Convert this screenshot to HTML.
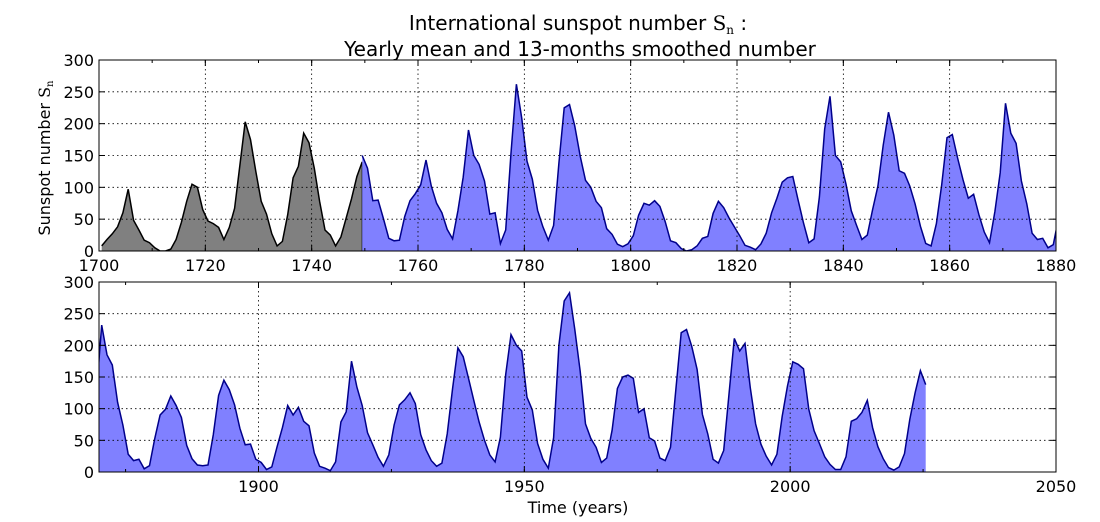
<!DOCTYPE html>
<html><head><meta charset="utf-8">
<style>
html,body{margin:0;padding:0;background:#fff;}
svg{display:block;font-family:"DejaVu Sans","Liberation Sans",sans-serif;}
</style></head>
<body>
<svg id="chart" width="1100" height="522" viewBox="0 0 1100 522" xmlns="http://www.w3.org/2000/svg">
<rect width="1100" height="522" fill="#fff"/>
<text x="578" y="30" font-size="20" text-anchor="middle">International sunspot number <tspan font-family="'DejaVu Serif',serif">S</tspan><tspan font-family="'DejaVu Serif',serif" font-size="12" dy="4">n</tspan><tspan dy="-4"> :</tspan></text>
<text x="580" y="56" font-size="20" text-anchor="middle">Yearly mean and 13-months smoothed number</text>
<text transform="translate(50,158) rotate(-90)" font-size="16" text-anchor="middle">Sunspot number <tspan font-family="'DejaVu Serif',serif">S</tspan><tspan font-family="'DejaVu Serif',serif" font-size="10" dy="3">n</tspan></text>
<text x="578" y="513" font-size="16" text-anchor="middle">Time (years)</text>
<g id="plots"></g>
</svg>
<script>
const grayStart = 1700;
const grayValues = [8,18,27,38,60,97,48,33,17,13,5,0,0,3,18,45,78,105,100,65,47,43,37,18,37,67,135,203,175,125,78,58,27,8,15,57,115,133,185,170,130,78,33,25,8,22,52,82,117,140];
const blueStart = 1749.5;
const blueValues = [150,130,79,80,51,20,16,17,54,79,90,104,143,102,75,60,34,19,63,116,190,150,136,110,58,60,11.7,33,154,262,209,141,113,64,38,17,40,138,225,230,196,149,111,100,78,68,35,26,10.7,6.8,11.3,24,56,75,72,79,70,46,16,13,4,0,2,8,20,23,59,78,68,52,38,24,9,6,2,11,28,60,83,108,115,117,80,44,13,19,85,192,243,150,140,105,63,40,18,25,65,102,166,218,182,126,122,102,74,39,12,8,43,104,178,183,146,112,83,89,57,30,13,62,123,232,185,169,110,74,28,18,20,5,10,53,90,99,120,105,86,42,21,11,10,11,59,121,145,130,106,69,43,44,20,15,4,8,40,70,105,90,102,80,73,30,9,6,2,16,79,95,175,134,105,62,43,23,9,27,74,106,114,125,108,59,35,18,9,14,60,132,196,182,148,113,79,50,27,16,55,154,217,200,191,118,98,45,20,6,54,200,270,283,225,159,76,53,39,15,22,66,132,150,153,148,94,100,54,49,22,18,39,131,220,225,198,162,91,60,20,14,34,123,211,191,203,133,76,44,25,11,28,88,136,174,170,163,99,65,45,24,12,4,4,24,80,84,94,113,70,40,21,7,3,8,29,83,125,160,138];
const yTicks = [0,50,100,150,200,250,300];
const topXTicks = [1700,1720,1740,1760,1780,1800,1820,1840,1860,1880];
const botXTicks = [1900,1950,2000,2050];

const NS='http://www.w3.org/2000/svg';
const root=document.getElementById('plots');
function el(tag,attrs,parent){const e=document.createElementNS(NS,tag);for(const k in attrs)e.setAttribute(k,attrs[k]);(parent||root).appendChild(e);return e;}

function panel(name,top,bottom,x0,x1,xTicks,minorStep){
  const L=99,R=1056;
  const sx=v=>L+(v-x0)/(x1-x0)*(R-L);
  const sy=v=>bottom-v/300*(bottom-top);
  const g=el('g',{});
  
  
  const cid='clip-'+name;
  const cp=el('clipPath',{id:cid},g);el('rect',{x:L,y:top,width:R-L,height:bottom-top},cp);
  const data=el('g',{'clip-path':'url(#'+cid+')'},g);
  function series(start,vals,fill,stroke,nm){
    let pts=vals.map((v,i)=>[sx(start+i),sy(v)]);
    let d='M'+pts[0][0].toFixed(1)+','+sy(0)+' '+pts.map(p=>'L'+p[0].toFixed(1)+','+p[1].toFixed(1)).join(' ')+' L'+pts[pts.length-1][0].toFixed(1)+','+sy(0)+'Z';
    const a=el('path',{d:d,fill:fill,stroke:'none'},data);
    
    
    const l=el('path',{d:'M'+pts.map(p=>p[0].toFixed(1)+','+p[1].toFixed(1)).join(' L'),fill:'none',stroke:stroke,'stroke-width':1.5},data);
    
    
  }
  if(x0<1750){series(grayStart+0.5,grayValues,'#808080','#000','yearly-mean');
    el('line',{x1:sx(1749.5),x2:sx(1749.5),y1:sy(0),y2:sy(grayValues[grayValues.length-1]),stroke:'#000','stroke-width':1},data);}
  series(blueStart,blueValues,'#8080ff','#00008b','smoothed');
  yTicks.forEach(t=>{if(t>0&&t<300)el('line',{x1:L,x2:R,y1:sy(t),y2:sy(t),stroke:'#000','stroke-width':0.8,'stroke-dasharray':'1.5,3'},g);});
  xTicks.forEach(t=>{const x=sx(t);if(x>L+1&&x<R-1)el('line',{x1:x,x2:x,y1:top,y2:bottom,stroke:'#000','stroke-width':0.8,'stroke-dasharray':'1.5,3'},g);});
  for(let t=Math.ceil(x0/minorStep)*minorStep;t<=x1;t+=minorStep){const x=sx(t);
    el('line',{x1:x,x2:x,y1:bottom,y2:bottom-3,stroke:'#000','stroke-width':1},g);el('line',{x1:x,x2:x,y1:top,y2:top+3,stroke:'#000','stroke-width':1},g);}
  xTicks.forEach(t=>{const x=sx(t);
    el('line',{x1:x,x2:x,y1:bottom,y2:bottom-6,stroke:'#000','stroke-width':1},g);el('line',{x1:x,x2:x,y1:top,y2:top+6,stroke:'#000','stroke-width':1},g);
    const tx=el('text',{x:x,y:bottom+20,'font-size':16,'text-anchor':'middle'},g);tx.textContent=t;
    
    });
  yTicks.forEach(t=>{const y=sy(t);
    el('line',{x1:L,x2:L+6,y1:y,y2:y,stroke:'#000','stroke-width':1},g);el('line',{x1:R,x2:R-6,y1:y,y2:y,stroke:'#000','stroke-width':1},g);
    const tx=el('text',{x:L-5,y:y+6,'font-size':16,'text-anchor':'end'},g);tx.textContent=t;
    
    });
  el('rect',{x:L,y:top,width:R-L,height:bottom-top,fill:'none',stroke:'#000','stroke-width':1},g);
}
panel('top-panel',60,251,1700,1880,topXTicks,10);
panel('bottom-panel',282,472,1870,2050,botXTicks,25);
</script>
</body></html>
